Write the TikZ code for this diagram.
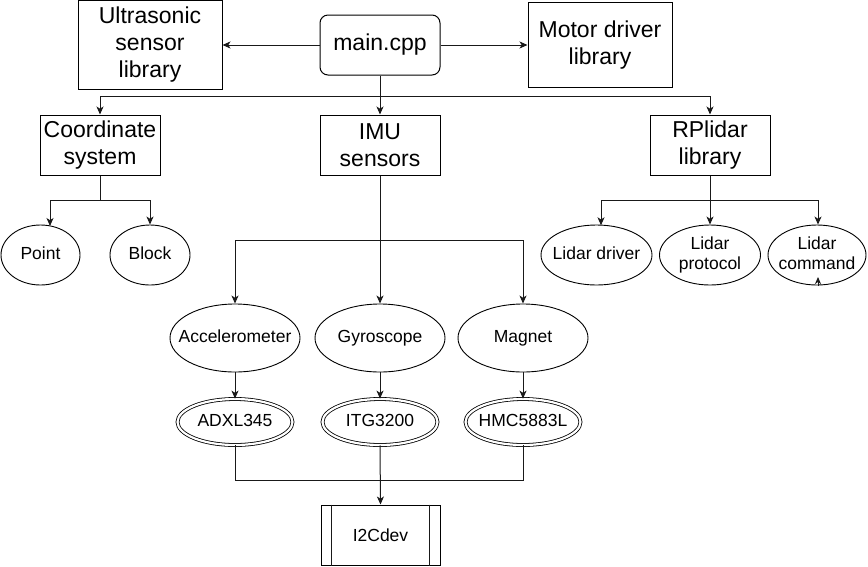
\documentclass[tikz,border=0pt]{standalone}
\usepackage{fontspec}
\setmainfont{Liberation Sans}
\usetikzlibrary{arrows.meta,shapes.geometric}
\newcommand{\zw}[1]{\makebox[0pt]{\begin{tabular}{@{}c@{}}#1\end{tabular}}}
\tikzset{
  big/.style={font=\fontsize{23}{27}\selectfont, align=center},
  small/.style={font=\fontsize{17.5}{20}\selectfont, align=center},
  boxnode/.style={draw=black, line width=1pt, rectangle, inner sep=0pt, big},
  ell/.style={draw=black, line width=0.9pt, ellipse, inner sep=0pt, small, minimum width=130pt, minimum height=68pt},
  dell/.style={draw=black, line width=0.8pt, ellipse, inner sep=0pt, small, double, double distance=2.2pt, minimum width=115pt, minimum height=46pt},
  conn/.style={draw=black!90, line width=1pt},
  arr/.style={conn, -{Stealth[length=8pt,width=7pt,inset=2.2pt]}}
}
\begin{document}
\begin{tikzpicture}[x=1pt,y=-1pt]
\useasboundingbox (0,0) rectangle (868,566);
% top row
\node[boxnode, minimum width=144pt, minimum height=89pt] (us) at (150,45) {Ultrasonic\\sensor\\library};
\node[boxnode, rounded corners=8pt, minimum width=120pt, minimum height=60pt] (main) at (380,45) {main.cpp};
\node[boxnode, minimum width=144pt, minimum height=85pt] (motor) at (600,45) {Motor driver\\library};
% second row
\node[boxnode, minimum width=120pt, minimum height=60pt] (coord) at (100,145) {Coordinate\\system};
\node[boxnode, minimum width=120pt, minimum height=60pt] (imu) at (380,145) {IMU\\sensors};
\node[boxnode, minimum width=120pt, minimum height=60pt] (rp) at (710,145) {RPlidar\\library};
% coordinate children
\node[ell, minimum width=79pt, minimum height=60pt] (pt) at (40.5,255) {\zw{Point}};
\node[ell, minimum width=80pt, minimum height=60pt] (blk) at (150,255) {\zw{Block}};
% lidar children
\node[ell, minimum width=111pt, minimum height=60pt] (ld) at (596.5,255) {\zw{Lidar driver}};
\node[ell, minimum width=101pt, minimum height=60pt] (lp) at (710,255) {\zw{Lidar\\protocol}};
\node[ell, minimum width=98pt, minimum height=60pt] (lc) at (817,255) {\zw{Lidar\\command}};
% IMU children
\node[ell] (acc) at (235,338) {\zw{Accelerometer}};
\node[ell] (gyr) at (380,338) {\zw{Gyroscope}};
\node[ell] (mag) at (523,338) {\zw{Magnet}};
\node[dell] (adxl) at (235,422) {\zw{ADXL345}};
\node[dell] (itg) at (380,422) {\zw{ITG3200}};
\node[dell] (hmc) at (523,422) {\zw{HMC5883L}};
% I2Cdev
\node[boxnode, small, minimum width=119pt, minimum height=60pt] (i2c) at (380.5,535) {I2Cdev};
\draw[conn] ([xshift=11pt]i2c.north west) -- ([xshift=11pt]i2c.south west);
\draw[conn] ([xshift=-11pt]i2c.north east) -- ([xshift=-11pt]i2c.south east);
% connectors top
\draw[arr] (main.west) -- (us.east);
\draw[arr] (main.east) -- (motor.west);
\coordinate (bus) at (380,96);
\draw[arr] (main.south) -- (imu.north);
\draw[arr] (bus) -| (coord.north);
\draw[arr] (bus) -| (rp.north);
% coordinate system
\coordinate (cj) at (100,200);
\coordinate (ptin) at (50,226);
\draw[conn] (coord.south) -- (cj);
\draw[arr] (cj) -| (ptin);
\draw[arr] (cj) -| (blk.north);
% rplidar
\coordinate (rj) at (710,200);
\coordinate (ldin) at (601,225.3);
\draw[arr] (rp.south) -- (lp.north);
\draw[arr] (rj) -| (ldin);
\draw[arr] (rj) -| ([xshift=1pt]lc.north);
\coordinate (lcb) at (818,286);
\draw[arr, -{Stealth[length=7pt,width=6pt,inset=2pt]}] (lcb) -- (818,277);
% IMU
\coordinate (ij) at (380,240);
\draw[conn] (imu.south) -- (ij);
\draw[arr] (ij) -| (acc.north);
\draw[arr] (ij) -- (gyr.north);
\draw[arr] (ij) -| (mag.north);
\draw[arr] (acc.south) -- (adxl.north);
\draw[arr] (gyr.south) -- (itg.north);
\draw[arr] (mag.south) -- (hmc.north);
% to I2Cdev
\coordinate (bj) at (380,480);
\draw[conn] (adxl.south) |- (bj);
\draw[conn] (hmc.south) |- (bj);
\draw[arr] (itg.south) -- (i2c.north);
\end{tikzpicture}
\end{document}
